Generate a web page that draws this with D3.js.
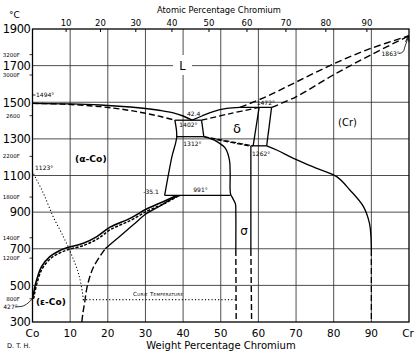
<!DOCTYPE html>
<html><head><meta charset="utf-8">
<script src="https://cdn.jsdelivr.net/npm/d3@7"></script>
<style>body{margin:0;background:#fff}svg{display:block}text{font-family:"DejaVu Sans",sans-serif;fill:#000}</style>
</head><body><svg id="c" width="420" height="356"></svg>
<script>
// ---- axis data ----
const wtTicks=[10,20,30,40,50,60,70,80,90];
const atTicks=[10,20,30,40,50,60,70,80,90];
const tempTicks=[300,500,700,900,1100,1300,1500,1700,1900];
const fTicks=[3200,3000,2600,2200,1800,1400,1200,800];
const fLabels=["3200F","3000F","2600","2200F","1800F","1400F","1200F","800F"];
// ---- phase boundaries (wt% Cr, °C) ----
const liquidusCo=[[0,1494],[10,1491],[18,1485],[26,1474],[30,1466],[34,1455],[37.4,1442],[40,1425],[42.4,1402]];
const solidusCo=[[0,1494],[8,1490],[18,1476],[25,1458],[30,1440],[34,1422],[37.8,1402]];
const liquidusDelta=[[42.4,1402],[45,1425],[48,1449],[51.6,1466],[55.1,1472]];
const solidusDelta=[[44.9,1402],[52.5,1438],[60.2,1472]];
const liquidusCr=[[55.1,1472],[62,1530],[70,1610],[80,1710],[90,1795],[100,1863]];
const solidusCr=[[63.5,1472],[70,1530],[80,1650],[90,1760],[100,1863]];
const iso1402=[[37.8,1402],[44.9,1402]];
const iso1312=[[38.3,1312],[45.5,1312]];
const iso1472=[[55.1,1472],[63.5,1472]];
const iso1262=[[58.0,1262],[62.2,1262]];
const iso991=[[35.1,991],[52.6,991]];
const coSolvus=[[37.8,1402],[38.3,1312],[37,1200],[35.1,991]];
const deltaLeft=[[44.9,1402],[45.5,1312]];
const deltaRight=[[60.2,1472],[58.6,1262]];
const crLeft=[[63.5,1472],[62.2,1262]];
const deltaLowerA=[[45.5,1312],[58.6,1262]];
const deltaLowerB=[[47,1303],[58.0,1260]];
const sigmaLeft=[[45.5,1312],[47.5,1300],[49,1285],[51.2,1249],[52.3,1185],[52.5,1112],[52.6,1000],[53.2,975],[53.9,945],[54,900],[54,693]];
const sigmaLeftLow=[[54,693],[54.1,300]];
const sigmaRight=[[58,1262],[58,693]];
const sigmaRightLow=[[58,693],[58.2,300]];
const crSolvus=[[62.2,1262],[65,1238],[69.3,1194],[75,1143],[80.8,1094],[84.3,1021],[87.9,930],[89.5,839],[89.9,766],[90,693]];
const crSolvusLow=[[90,693],[90,300]];
const bandA=[[0,427],[0.2,445],[0.6,490],[1.1,529],[2.4,602],[4.6,657],[7,688],[9.1,705],[13.5,730],[17.1,766],[20.6,818],[25.9,866],[30.3,917],[34.7,957],[38.3,991]];
const bandB=[[0.3,427],[0.5,450],[1.3,520],[2.6,592],[4.8,646],[7.2,677],[9.3,694],[13.7,719],[17.3,754],[20.8,806],[26.1,855],[30.5,906],[34.9,946],[38.4,985]];
const lowerDashed=[[13.1,300],[13.4,350],[13.8,400],[14.6,500],[16.2,600],[19.3,700]];
const lowerSolid=[[19.3,700],[21,730],[24,782],[27,835],[30,888],[34,935],[37,972],[39.3,991]];
const curieDotted=[[0,1123],[0.9,1085],[2.9,1003],[5.5,875],[8.2,766],[10.4,666],[12.2,566],[13.3,457],[13.5,422]];
const curieLine=[[13.5,422],[54,422]];

const svg=d3.select("#c");
const x=d3.scaleLinear().domain([0,100]).range([32.5,409]);
const y=d3.scaleLinear().domain([300,1900]).range([322,29]);
const wtFromAt=a=>100*a*51.996/(a*51.996+(100-a)*58.933);
const fToC=f=>(f-32)*5/9;

// grid
const g=svg.append("g");
g.selectAll(".v").data(wtTicks).join("line")
 .attr("x1",d=>x(d)).attr("x2",d=>x(d)).attr("y1",y(1900)).attr("y2",y(300))
 .attr("stroke","#3a3a3a").attr("stroke-width",0.9);
g.selectAll(".h").data(tempTicks.slice(1,-1)).join("line")
 .attr("y1",d=>y(d)).attr("y2",d=>y(d)).attr("x1",x(0)).attr("x2",x(100))
 .attr("stroke","#3a3a3a").attr("stroke-width",0.9);
svg.append("rect").attr("x",x(0)).attr("y",y(1900)).attr("width",x(100)-x(0)).attr("height",y(300)-y(1900))
 .attr("fill","none").attr("stroke","#000").attr("stroke-width",1.3);

// top atomic ticks
svg.selectAll(".at").data(atTicks).join("line")
 .attr("x1",d=>x(wtFromAt(d))).attr("x2",d=>x(wtFromAt(d))).attr("y1",y(1900)).attr("y2",y(1900)+3)
 .attr("stroke","#000").attr("stroke-width",1);
svg.selectAll(".atl").data(atTicks).join("text")
 .attr("x",d=>x(wtFromAt(d))).attr("y",26).attr("text-anchor","middle").attr("font-size",8.5).text(d=>d);
svg.append("text").attr("x",219).attr("y",13).attr("text-anchor","middle").attr("font-size",8.3).text("Atomic Percentage Chromium");

// left °C
svg.selectAll(".tl").data(tempTicks).join("text")
 .attr("x",30.5).attr("y",d=>y(d)+4.3).attr("text-anchor","end").attr("font-size",11.5).attr("letter-spacing",-0.4).text(d=>d);
svg.append("text").attr("x",9).attr("y",18).attr("font-size",9).text("°C");
// F
svg.selectAll(".fl").data(fTicks).join("text")
 .attr("x",20).attr("y",d=>y(fToC(d))+2).attr("text-anchor","end").attr("font-size",5.5).text((d,i)=>fLabels[i]);
svg.selectAll(".ft").data(fTicks).join("line")
 .attr("x1",29.5).attr("x2",x(0)).attr("y1",d=>y(fToC(d))).attr("y2",d=>y(fToC(d)))
 .attr("stroke","#000").attr("stroke-width",0.8);

// bottom
svg.selectAll(".bl").data(wtTicks).join("text")
 .attr("x",d=>x(d)).attr("y",336.5).attr("text-anchor","middle").attr("font-size",10.5).text(d=>d);
svg.append("text").attr("x",x(0)).attr("y",336.5).attr("text-anchor","middle").attr("font-size",10.5).text("Co");
svg.append("text").attr("x",x(100)-1).attr("y",336.5).attr("text-anchor","middle").attr("font-size",10.5).text("Cr");
svg.append("text").attr("x",221).attr("y",348.5).attr("text-anchor","middle").attr("font-size",10).text("Weight Percentage Chromium");
svg.append("text").attr("x",7).attr("y",348).attr("font-size",6.5).text("D. T. H.");

// curves
const smooth=d3.line().x(d=>x(d[0])).y(d=>y(d[1])).curve(d3.curveCatmullRom.alpha(0.5));
const straight=d3.line().x(d=>x(d[0])).y(d=>y(d[1]));
function draw(data,gen,opts){
  const p=svg.append("path").attr("d",gen(data)).attr("fill","none").attr("stroke","#000")
   .attr("stroke-width",opts.w||1.3);
  if(opts.dash) p.attr("stroke-dasharray",opts.dash);
  if(opts.cap) p.attr("stroke-linecap",opts.cap);
}
draw(liquidusCo,smooth,{w:1.4});
draw(solidusCo,smooth,{w:1.4,dash:"6,3"});
draw(liquidusDelta,smooth,{w:1.3});
draw(solidusDelta,smooth,{w:1.3,dash:"6,3"});
draw(liquidusCr,smooth,{w:1.4,dash:"7,3.5"});
draw(solidusCr,smooth,{w:1.4,dash:"7,3.5"});
[iso1402,iso1312,iso1472,iso1262,iso991,deltaLeft,deltaRight,crLeft].forEach(d=>draw(d,straight,{w:1.3}));
draw(coSolvus,smooth,{w:1.3});
draw(deltaLowerA,straight,{w:1.2,dash:"5,2"});
draw(deltaLowerB,straight,{w:1.2,dash:"5,2"});
draw(sigmaLeft,smooth,{w:1.3});
draw(sigmaLeftLow,straight,{w:1.4,dash:"6,3"});
draw(sigmaRight,straight,{w:1.3});
draw(sigmaRightLow,straight,{w:1.4,dash:"6,3"});
draw(crSolvus,smooth,{w:1.3});
draw(crSolvusLow,straight,{w:1.3,dash:"6,3"});
draw(bandA,smooth,{w:1.6});
draw(bandB,smooth,{w:1.5,dash:"3,1.5"});
draw(lowerDashed,smooth,{w:1.4,dash:"7,3"});
draw(lowerSolid,smooth,{w:1.3});
draw(curieDotted,smooth,{w:1.2,dash:"0.1,3.2",cap:"round"});
draw(curieLine,straight,{w:1.2,dash:"0.1,3.2",cap:"round"});

// labels
svg.append("rect").attr("x",173).attr("y",55).attr("width",19).attr("height",20).attr("fill","#fff");
svg.append("text").attr("x",182.5).attr("y",70).attr("text-anchor","middle").attr("font-size",11.5).text("L");
svg.append("text").attr("x",237).attr("y",133).attr("text-anchor","middle").attr("font-size",13).attr("font-family","DejaVu Serif").text("δ");
svg.append("text").attr("x",244).attr("y",235).attr("text-anchor","middle").attr("font-size",12).attr("font-family","DejaVu Serif").text("σ");
svg.append("text").attr("x",338).attr("y",126).attr("font-size",10).text("(Cr)");
svg.append("text").attr("x",75).attr("y",161.7).attr("font-size",9.2).attr("font-weight","bold").text("(α-Co)");
svg.append("text").attr("x",36).attr("y",304.5).attr("font-size",9).attr("font-weight","bold").text("(ε-Co)");
const small=[["1494°",36,97.3],["42.4",187,115.5],["1402°",179.3,126.7],["1312°",183.3,146],["1472°",256.7,105],["1262°",252,156],["-35.1",143.3,194],["991°",193.3,191.7],["1123°",35,170],["1863°",381.5,56],["427°",3.3,309.3]];
svg.selectAll(".sm").data(small).join("text").attr("x",d=>d[1]).attr("y",d=>d[2]).attr("font-size",6).text(d=>d[0]);
svg.append("text").attr("x",133).attr("y",295.7).attr("font-size",5.6).attr("font-variant","small-caps").attr("letter-spacing",0.3).text("Curie Temperature");
// leaders
svg.append("line").attr("x1",x(0)).attr("x2",35.5).attr("y1",95).attr("y2",95).attr("stroke","#000").attr("stroke-width",0.8);
svg.append("path").attr("d",`M15,307 L21,306.5 Q26,306 ${x(0)},${y(427)}`).attr("fill","none").attr("stroke","#000").attr("stroke-width",0.8);
svg.append("path").attr("d",`M399,53.5 Q404,53 404.5,48 L${x(100)-1},${y(1863)+2}`).attr("fill","none").attr("stroke","#000").attr("stroke-width",0.8);
svg.append("path").attr("d",`M${x(100)-3.5},${y(1863)+6} L${x(100)-0.5},${y(1863)} L${x(100)},${y(1863)+6.5}`).attr("fill","none").attr("stroke","#000").attr("stroke-width",0.9);
</script></body></html>
